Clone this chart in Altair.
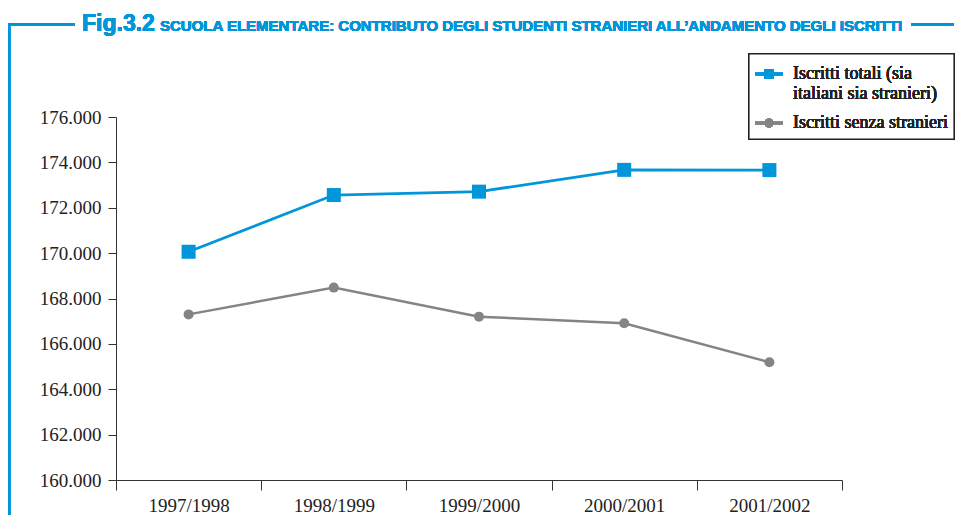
import altair as alt
import pandas as pd

years = ["1997/1998", "1998/1999", "1999/2000", "2000/2001", "2001/2002"]
totali = [170060, 172560, 172710, 173670, 173660]
senza = [167300, 168480, 167200, 166910, 165190]
series_names = ["Iscritti totali (sia italiani sia stranieri)", "Iscritti senza stranieri"]
y_ticks = [160000, 162000, 164000, 166000, 168000, 170000, 172000, 174000, 176000]

BLUE = "#0096d9"
GRAY = "#848486"
SERIF = "Liberation Serif"
SANS = "Liberation Sans"

df = pd.DataFrame(
    {
        "anno": years * 2,
        "valore": totali + senza,
        "serie": [series_names[0]] * len(years) + [series_names[1]] * len(years),
    }
)

W, H = 726, 363

x_enc = alt.X(
    "anno:N",
    sort=years,
    scale=alt.Scale(type="band", paddingInner=0, paddingOuter=0),
    axis=alt.Axis(
        title=None,
        labelAngle=0,
        tickBand="extent",
        tickSize=10,
        labelPadding=6,
        labelFont=SERIF,
        labelFontSize=19,
        labelColor="#222222",
        domainColor="#333333",
        tickColor="#333333",
        grid=False,
    ),
)
y_enc = alt.Y(
    "valore:Q",
    scale=alt.Scale(domain=[160000, 176000], nice=False, zero=False),
    axis=alt.Axis(
        title=None,
        values=y_ticks,
        tickSize=8,
        labelPadding=7,
        labelFont=SERIF,
        labelFontSize=19,
        labelColor="#222222",
        domainColor="#333333",
        tickColor="#333333",
        grid=False,
        labelExpr="replace(format(datum.value, ',.0f'), ',', '.')",
    ),
)

base = alt.Chart(df)

line_tot = base.transform_filter(alt.datum.serie == series_names[0]).mark_line(
    strokeWidth=2.8, color=BLUE
).encode(x=x_enc, y=y_enc)
line_senza = base.transform_filter(alt.datum.serie == series_names[1]).mark_line(
    strokeWidth=2.5, color=GRAY
).encode(x=x_enc, y=y_enc)
pts_tot = base.transform_filter(alt.datum.serie == series_names[0]).mark_point(
    shape="square", filled=True, size=196, opacity=1, color=BLUE
).encode(x=x_enc, y=y_enc)
pts_senza = base.transform_filter(alt.datum.serie == series_names[1]).mark_point(
    shape="circle", filled=True, size=100, opacity=1, color=GRAY
).encode(x=x_enc, y=y_enc)

# frame lines (plot-area pixel coords)
frame_left = base.mark_rule(color=BLUE, strokeWidth=2.5).encode(
    x=alt.value(-41), x2=alt.value(-108), y=alt.value(-92.5)
)
frame_right = base.mark_rule(color=BLUE, strokeWidth=2.5).encode(
    x=alt.value(795), x2=alt.value(838), y=alt.value(-92.5)
)
frame_vert = base.mark_rule(color=BLUE, strokeWidth=2.5).encode(
    x=alt.value(-107), y=alt.value(-93.7), y2=alt.value(400)
)

title_fig = base.mark_text(
    text="Fig.3.2", font=SANS, fontSize=23, fontWeight="bold", color=BLUE,
    align="left", baseline="alphabetic",
).encode(x=alt.value(-34), y=alt.value(-86))
title_rest = base.mark_text(
    text="SCUOLA ELEMENTARE: CONTRIBUTO DEGLI STUDENTI STRANIERI ALL\u2019ANDAMENTO DEGLI ISCRITTI",
    font=SANS, fontSize=15, fontWeight="bold", color=BLUE,
    align="left", baseline="alphabetic",
).encode(x=alt.value(44), y=alt.value(-86))

# legend box
leg_box = base.mark_rect(fill="white", stroke="#222222", strokeWidth=1.2).encode(
    x=alt.value(633), x2=alt.value(838), y=alt.value(-63), y2=alt.value(22)
)
leg_line1 = base.mark_rule(color=BLUE, strokeWidth=2.5).encode(
    x=alt.value(639), x2=alt.value(667), y=alt.value(-43)
)
leg_sym1 = base.mark_point(shape="square", filled=True, size=100, opacity=1, color=BLUE).encode(
    x=alt.value(653), y=alt.value(-43)
)
leg_line2 = base.mark_rule(color=GRAY, strokeWidth=2.5).encode(
    x=alt.value(639), x2=alt.value(667), y=alt.value(6)
)
leg_sym2 = base.mark_point(shape="circle", filled=True, size=80, opacity=1, color=GRAY).encode(
    x=alt.value(653), y=alt.value(6)
)
leg_txt_kw = dict(font=SERIF, fontSize=18, fontWeight="normal", color="#222222",
                  align="left", baseline="middle")
leg_t1a = base.mark_text(text="Iscritti totali (sia", **leg_txt_kw).encode(
    x=alt.value(677), y=alt.value(-43)
)
leg_t1b = base.mark_text(text="italiani sia stranieri)", **leg_txt_kw).encode(
    x=alt.value(677), y=alt.value(-23)
)
leg_t2 = base.mark_text(text="Iscritti senza stranieri", **leg_txt_kw).encode(
    x=alt.value(677), y=alt.value(6)
)

chart = alt.layer(
    line_tot, line_senza, pts_tot, pts_senza,
    frame_left, frame_right, frame_vert, title_fig, title_rest,
    leg_box, leg_line1, leg_sym1, leg_line2, leg_sym2, leg_t1a, leg_t1b, leg_t2,
).properties(
    width=W,
    height=H,
    autosize=alt.AutoSizeParams(type="none"),
    padding={"left": 108, "top": 109, "right": 113, "bottom": 35},
    background="white",
).configure_view(stroke=None)

chart.save("out.html", embed_options={"renderer": "svg", "actions": False})
